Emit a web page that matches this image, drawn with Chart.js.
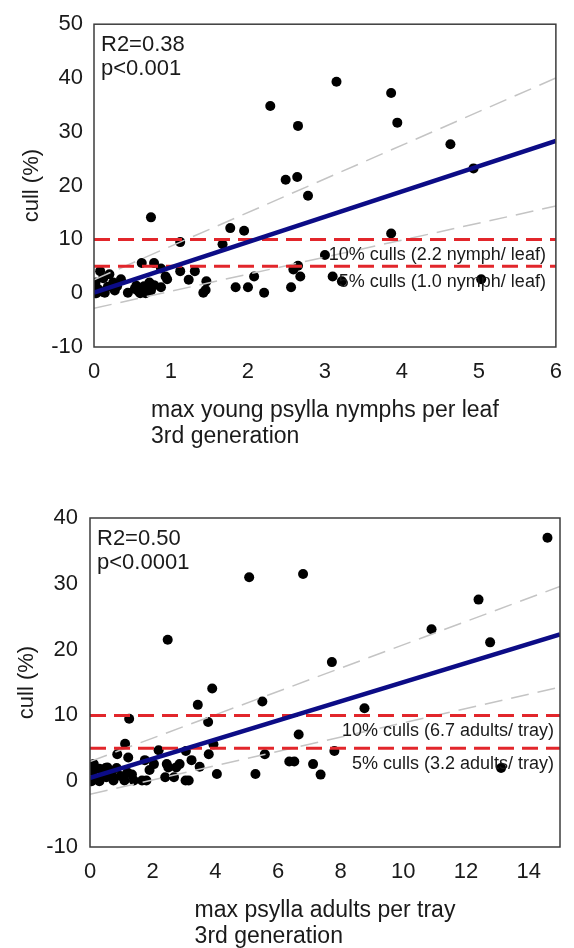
<!DOCTYPE html>
<html><head><meta charset="utf-8">
<script src="https://cdn.jsdelivr.net/npm/chart.js@4.4.1/dist/chart.umd.min.js"></script>
<style>
html,body{margin:0;padding:0;background:#fff;overflow:hidden;}
.box{position:absolute;left:0;width:574px;height:474px;}
#b1{top:0}
#b2{top:474px}
</style>
</head><body>
<div class="box" id="b1"><canvas id="c1" width="574" height="474"></canvas></div>
<div class="box" id="b2"><canvas id="c2" width="574" height="474"></canvas></div>
<script>
// ---------- Top panel: nymphs per leaf ----------
const nymphX = [2.29,3.15,3.86,3.94,2.65,4.63,4.93,2.49,2.64,2.78,
  0.74,1.77,1.95,3.86,1.12,1.67,3.0,
  0.62,0.78,2.65,2.59,0.87,1.12,1.31,0.08,
  0.93,0.95,2.08,2.68,3.1,3.22,5.03,1.23,1.46,1.45,1.42,
  1.84,2.0,2.21,2.56,0.87,0.44,
  0.02,0.05,0.03,0.14,0.2,0.12,0.25,0.35,0.27,0.3,0.53,0.58,0.55,0.65,0.72,0.74,0.67,0.6,0.7,0.78,0.18,0.1];
const nymphCull = [34.8,39.3,37.2,31.7,31.1,27.7,23.2,21.1,21.6,18.1,
  14.1,12.1,11.6,11.1,9.5,9.1,7.1,
  5.6,5.6,5.1,4.4,4.6,4.1,4.1,4.1,
  3.1,2.6,3.1,3.1,3.1,2.2,2.6,2.5,2.2,0.6,0.1,
  1.1,1.1,0.1,1.1,1.1,0.1,
  2.0,0.8,0.0,0.1,3.5,2.8,2.0,2.6,0.5,1.3,0.8,0.3,1.4,1.3,2.0,0.5,0.0,0.0,1.0,1.5,1.2,0.3];
const nymphLineX = [0, 6];
const nymphFit = [0.1, 28.3];
const nymphUpper = [2.5, 40.0];
const nymphLower = [-2.8, 16.2];
const nymphXTicks = [0,1,2,3,4,5,6];
const nymphYTicks = [-10,0,10,20,30,40,50];

// ---------- Bottom panel: adults per tray ----------
const adultX = [14.6,5.08,6.8,12.4,10.9,12.77,2.48,7.72,
  3.9,3.44,5.5,8.76,1.25,3.77,6.66,
  1.12,3.94,2.19,3.06,7.8,0.87,3.79,5.58,1.22,
  1.75,3.24,6.36,6.52,7.12,2.04,2.45,2.86,2.5,2.75,3.5,0.55,13.12,
  4.05,5.28,7.36,1.9,2.4,2.68,3.15,3.05,1.8,1.66,1.4,
  0.12,0.1,0.2,0.05,0.5,0.85,0.52,0.75,0.98,1.1,1.34,0.4,0.6,0.3,1.2,0.3,0.7];
const adultCull = [37.0,31.0,31.5,27.6,23.1,21.1,21.5,18.1,
  14.1,11.6,12.1,11.1,9.5,9.0,7.1,
  5.7,5.6,4.7,4.6,4.6,4.1,4.1,4.1,3.6,
  3.2,3.2,3.0,3.0,2.6,2.6,2.6,2.6,2.1,2.1,2.2,2.1,2.0,
  1.1,1.1,1.0,1.7,0.6,0.6,0.1,0.1,0.1,0.1,0.1,
  2.6,1.5,0.3,0.0,2.0,2.0,0.6,0.1,0.8,0.1,1.0,0.9,1.3,0.0,1.3,1.9,0.9];
const adultLineX = [0, 15];
const adultFit = [0.5, 22.3];
const adultUpper = [3.0, 29.6];
const adultLower = [-2.0, 14.3];
const adultXTicks = [0,2,4,6,8,10,12,14];
const adultYTicks = [-10,0,10,20,30,40];

const cullLevels = [10, 5];

const FONT = "'Liberation Sans', Arial, Helvetica, sans-serif";
const TXT = '#1a1a1a';

function pts(xs, ys){ return xs.map((x,i)=>({x:x, y:ys[i]})); }

const annotPlugin = {
  id: 'annot',
  afterDraw(chart, args, o){
    const ctx = chart.ctx, a = chart.chartArea;
    const ys = chart.scales.y;
    ctx.save();
    // frame
    ctx.strokeStyle = '#3c3c3c';
    ctx.lineWidth = 1.5;
    ctx.strokeRect(a.left, a.top, a.right - a.left, a.bottom - a.top);
    ctx.fillStyle = TXT;
    // stats
    ctx.font = '22px ' + FONT;
    ctx.textAlign = 'left';
    ctx.textBaseline = 'middle';
    ctx.fillText(o.r2, a.left + 7, a.top + 21);
    ctx.fillText(o.p, a.left + 7, a.top + 45);
    // cull labels
    ctx.font = '18px ' + FONT;
    ctx.textAlign = 'right';
    ctx.fillText(o.c10, a.right - o.rpad, ys.getPixelForValue(cullLevels[0]) + 15.5);
    ctx.fillText(o.c5, a.right - o.rpad, ys.getPixelForValue(cullLevels[1]) + 15.5);
    // x title: two lines, left aligned, first line centred
    ctx.font = '23px ' + FONT;
    const w1 = ctx.measureText(o.xt[0]).width;
    const cx = (a.left + a.right) / 2;
    ctx.textAlign = 'left';
    ctx.fillText(o.xt[0], cx - w1/2, a.bottom + 64);
    ctx.fillText(o.xt[1], cx - w1/2, a.bottom + 90);
    // y title
    ctx.font = '22px ' + FONT;
    ctx.translate(o.ytx, (a.top + a.bottom)/2);
    ctx.rotate(-Math.PI/2);
    ctx.textAlign = 'center';
    ctx.fillText(o.yt, 0, 0);
    ctx.restore();
  }
};

function make(id, cfg){
  const lineDs = (ys, color, width, dash) => ({
    type: 'scatter',
    data: pts(cfg.lineX, ys),
    showLine: true, borderColor: color, borderWidth: width, borderDash: dash,
    pointRadius: 0, fill: false
  });
  const redDs = (lvl) => ({
    type: 'scatter',
    data: pts(cfg.lineX, [lvl, lvl]),
    showLine: true, borderColor: '#e2262b', borderWidth: 3, borderDash: [16, 8],
    pointRadius: 0, fill: false
  });
  new Chart(document.getElementById(id), {
    type: 'scatter',
    data: { datasets: [
      lineDs(cfg.fit, '#0c0c86', 4.5, []),
      redDs(cullLevels[0]),
      redDs(cullLevels[1]),
      lineDs(cfg.upper, '#c4c4c4', 1.5, [18, 9]),
      lineDs(cfg.lower, '#c4c4c4', 1.5, [18, 9]),
      { data: pts(cfg.px, cfg.py), pointRadius: 5, pointBackgroundColor: '#000', pointBorderColor: '#000', pointBorderWidth: 0, showLine: false }
    ]},
    options: {
      responsive: false, animation: false, devicePixelRatio: 1,
      layout: { padding: { left: 0, top: cfg.padTop, right: cfg.padRight, bottom: 0 } },
      plugins: { legend: {display:false}, tooltip: {enabled:false}, title: {display:false},
        annot: cfg.annot },
      scales: {
        x: { type: 'linear', min: cfg.xmin, max: cfg.xmax,
          grid: { display: false, drawTicks: false }, border: { display: false },
          ticks: { color: TXT, font: { family: FONT, size: 22 }, padding: 12, maxRotation: 0 },
          afterBuildTicks: s => { s.ticks = cfg.xTicks.map(v => ({value: v})); },
          afterFit: s => { s.height = cfg.xAxisH; } },
        y: { type: 'linear', min: cfg.ymin, max: cfg.ymax,
          grid: { display: false, drawTicks: false }, border: { display: false },
          ticks: { color: TXT, font: { family: FONT, size: 22 }, padding: cfg.yPad },
          afterBuildTicks: s => { s.ticks = cfg.yTicks.map(v => ({value: v})); },
          afterFit: s => { s.width = cfg.yAxisW; } }
      }
    },
    plugins: [annotPlugin]
  });
}

make('c1', {
  px: nymphX, py: nymphCull, lineX: nymphLineX, fit: nymphFit, upper: nymphUpper, lower: nymphLower,
  xmin: 0, xmax: 6, ymin: -10, ymax: 50, xTicks: nymphXTicks, yTicks: nymphYTicks,
  padTop: 20, padRight: 12, yAxisW: 94, xAxisH: 127, yPad: 11,
  annot: { r2: 'R2=0.38', p: 'p<0.001', c10: '10% culls (2.2 nymph/ leaf)', c5: '5% culls (1.0 nymph/ leaf)',
    rpad: 10, xt: ['max young psylla nymphs per leaf', '3rd generation'], yt: 'cull (%)', ytx: 32 }
});

make('c2', {
  px: adultX, py: adultCull, lineX: adultLineX, fit: adultFit, upper: adultUpper, lower: adultLower,
  xmin: 0, xmax: 15, ymin: -10, ymax: 40, xTicks: adultXTicks, yTicks: adultYTicks,
  padTop: 44, padRight: 14, yAxisW: 90, xAxisH: 101, yPad: 12,
  annot: { r2: 'R2=0.50', p: 'p<0.0001', c10: '10% culls (6.7 adults/ tray)', c5: '5% culls (3.2 adults/ tray)',
    rpad: 6, xt: ['max psylla adults per tray', '3rd generation'], yt: 'cull (%)', ytx: 27 }
});
</script>
</body></html>
